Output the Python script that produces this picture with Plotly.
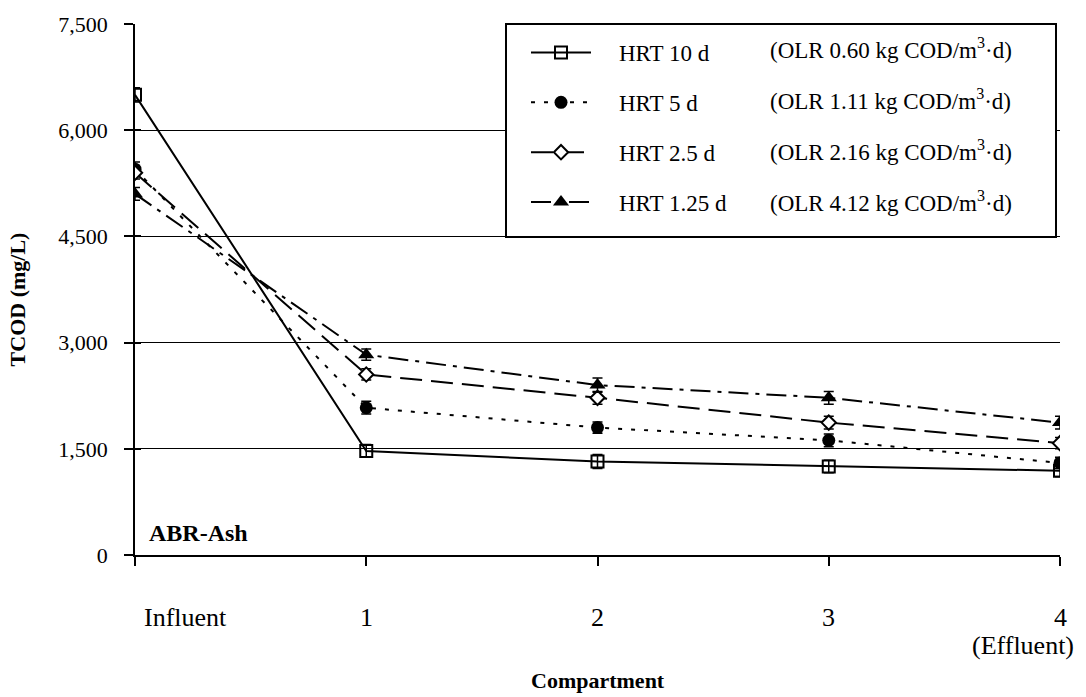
import plotly.graph_objects as go

# ---- data ----
x_pos = [0, 1, 2, 3, 4]
tick_labels = ["Influent", "1", "2", "3", "4"]
tick_sublabel_last = "(Effluent)"

hrt10 = [6500, 1470, 1320, 1250, 1190]
hrt10_err = [100, 90, 100, 90, 80]
hrt5 = [5450, 2080, 1800, 1620, 1300]
hrt5_err = [100, 90, 80, 90, 80]
hrt25 = [5400, 2550, 2220, 1870, 1580]
hrt25_err = [90, 80, 90, 90, 80]
hrt125 = [5100, 2830, 2400, 2220, 1870]
hrt125_err = [90, 80, 100, 90, 90]

series_names = ["HRT 10 d", "HRT 5 d", "HRT 2.5 d", "HRT 1.25 d"]
olr_labels = ["(OLR 0.60 kg COD/m<sup>3</sup>·d)", "(OLR 1.11 kg COD/m<sup>3</sup>·d)",
              "(OLR 2.16 kg COD/m<sup>3</sup>·d)", "(OLR 4.12 kg COD/m<sup>3</sup>·d)"]
y_ticks = [0, 1500, 3000, 4500, 6000, 7500]
y_ticktext = ["0", "1,500", "3,000", "4,500", "6,000", "7,500"]

FONT = "Liberation Serif, Times New Roman, serif"
NB = "\u00a0"

styles = [
    dict(dash="solid", symbol="square-open", size=12, color="black", lw=2),
    dict(dash="4px,9px", symbol="circle", size=13, color="black", lw=0),
    dict(dash="22px,9px", symbol="diamond", size=11, color="white", lw=2),
    dict(dash="20px,7px,4px,7px", symbol="triangle-up", size=14, color="black", lw=0),
]
data = [(hrt10, hrt10_err), (hrt5, hrt5_err), (hrt25, hrt25_err), (hrt125, hrt125_err)]

fig = go.Figure()
for i, ((ys, es), name, st) in enumerate(zip(data, series_names, styles)):
    fig.add_trace(go.Scatter(
        x=x_pos, y=ys, name=NB * 4 + name, mode="lines+markers",
        legendgroup=f"g{i}",
        line=dict(color="black", width=2, dash=st["dash"]),
        marker=dict(symbol=st["symbol"], size=st["size"], color=st["color"],
                    line=dict(color="black", width=st["lw"])),
        error_y=dict(type="data", array=es, visible=True, color="black",
                     thickness=1.5, width=5),
    ))

# plot area in pixels: x 135..1060, y 19..555
L, R, T, B = 135, 1060, 19, 555
W, H = R - L, B - T
def px_x(p):
    return (p - L) / W
def px_y(p):
    return (B - p) / H

fig.update_layout(
    width=1086, height=697,
    margin=dict(l=L, r=1086 - R, t=T, b=697 - B),
    paper_bgcolor="white", plot_bgcolor="white",
    font=dict(family=FONT, size=22, color="black"),
    showlegend=True,
    legend=dict(x=px_x(526), y=px_y(26), xanchor="left", yanchor="top",
                bgcolor="rgba(0,0,0,0)", borderwidth=0,
                font=dict(family=FONT, size=23, color="black"),
                tracegroupgap=17, itemwidth=60),
    xaxis=dict(range=[0, 4], tickvals=x_pos, showticklabels=False,
               ticks="outside", ticklen=9, tickwidth=1.5, tickcolor="black",
               showline=True, linecolor="black", linewidth=1.5,
               showgrid=False, zeroline=False),
    yaxis=dict(range=[0, 7500], tickvals=y_ticks, ticktext=y_ticktext,
               ticks="outside", ticklen=9, tickwidth=1.5, tickcolor="black",
               ticklabelstandoff=12,
               tickfont=dict(family=FONT, size=22, color="black"),
               showline=True, linecolor="black", linewidth=1.5,
               showgrid=True, gridcolor="black", gridwidth=1, zeroline=False),
    yaxis2=dict(range=[0, 7500], tickvals=y_ticks, showticklabels=False,
                overlaying="y", ticks="inside", ticklen=6, tickwidth=1.5,
                tickcolor="black", showgrid=False, zeroline=False, showline=False),
)
# dummy trace to activate inside ticks
fig.add_trace(go.Scatter(x=[None], y=[None], yaxis="y2", showlegend=False))

# legend box
fig.add_shape(type="rect", xref="paper", yref="paper",
              x0=px_x(506), x1=px_x(1056), y0=px_y(234), y1=px_y(19),
              line=dict(color="black", width=2), fillcolor="white", layer="above")

# OLR column
for i, t in enumerate(olr_labels):
    fig.add_annotation(xref="paper", yref="paper", x=px_x(768), y=px_y(44 + i * 51.3),
                       text=t, showarrow=False, xanchor="left", yanchor="middle",
                       font=dict(family=FONT, size=23, color="black"))

# x tick labels
shifts = [50, 0, 0, 0, 0]
for xv, lab, sh in zip(x_pos, tick_labels, shifts):
    fig.add_annotation(x=xv, xref="x", yref="paper", y=0, yshift=-62, xshift=sh,
                       text=lab, showarrow=False, xanchor="center", yanchor="middle",
                       font=dict(family=FONT, size=26, color="black"))
fig.add_annotation(x=x_pos[-1], xref="x", yref="paper", y=0, yshift=-90, xshift=16,
                   text=tick_sublabel_last, showarrow=False, xanchor="right", yanchor="middle",
                   font=dict(family=FONT, size=26, color="black"))

# axis titles
fig.add_annotation(xref="paper", yref="paper", x=px_x(598), y=px_y(682),
                   text="<b>Compartment</b>", showarrow=False, xanchor="center", yanchor="middle",
                   font=dict(family=FONT, size=22, color="black"))
fig.add_annotation(xref="paper", yref="paper", x=px_x(17), y=px_y(297),
                   text="<b>TCOD (mg/L)</b>", showarrow=False, textangle=-90,
                   xanchor="center", yanchor="middle",
                   font=dict(family=FONT, size=22, color="black"))
# panel label
fig.add_annotation(xref="paper", yref="paper", x=px_x(147), y=px_y(533),
                   text="<b>ABR-Ash</b>", showarrow=False, xanchor="left", yanchor="middle",
                   font=dict(family=FONT, size=24, color="black"))

fig.write_html("out.html")
